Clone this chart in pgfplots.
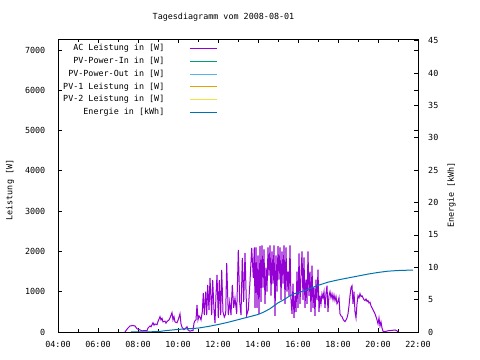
\documentclass[border=0pt]{standalone}
\usepackage{fontspec}
\setmainfont{DejaVu Sans Mono}
\usepackage{pgfplots}
\pgfplotsset{compat=1.18}
\newcommand\myfont{\fontsize{8.4bp}{10bp}\selectfont}
\definecolor{cAC}{HTML}{9400D3}
\definecolor{cIn}{HTML}{009E73}
\definecolor{cOut}{HTML}{56B4E9}
\definecolor{cPVa}{HTML}{E69F00}
\definecolor{cPVb}{HTML}{F0E442}
\definecolor{cE}{HTML}{0072B2}
\begin{document}
\begin{tikzpicture}[font=\myfont]
\useasboundingbox (0,0) rectangle (480bp,360bp);
\begin{axis}[
  at={(58bp,28bp)}, anchor=south west,
  scale only axis, width=360bp, height=292.5bp,
  xmin=4, xmax=22, ymin=0, ymax=7260,
  xtick={4,6,...,22}, minor xtick={5,7,...,21},
  xticklabels={04:00,06:00,08:00,10:00,12:00,14:00,16:00,18:00,20:00,22:00},
  ytick={0,1000,...,7000},
  scaled y ticks=false,
  /pgf/number format/1000 sep={},
  /pgf/number format/assume math mode=true,
  tick align=inside, tick pos=both,
  xticklabel pos=lower, yticklabel pos=left,
  major tick length=4bp, minor tick length=2.5bp,
  tick style={black, line width=0.8bp},
  axis line style={line width=0.9bp},
  xticklabel style={font=\myfont, anchor=north, inner sep=0pt, yshift=-9.5bp},
  yticklabel style={font=\myfont, anchor=east, inner sep=0pt, xshift=-12.5bp},
  legend plot pos=right, legend cell align=right,
  legend image code/.code={\draw[#1,line width=1bp] (0bp,0bp) -- (27bp,0bp);},
  legend style={draw=none, fill=none, at={(0,1)}, anchor=north west,
    xshift=5bp, yshift=-5bp, inner sep=0pt, row sep=5.3bp, column sep=25bp,
    nodes={inner sep=0pt, text height=6bp, text depth=1.5bp, font=\myfont}},
]
\addplot[cAC, line width=1bp] coordinates {
(7.35,0) (7.5,100) (7.6,150) (7.75,160) (7.85,150) (7.95,80) (8.05,60) (8.2,30)
(8.35,35) (8.45,30) (8.5,100) (8.6,150) (8.65,130) (8.75,230) (8.8,170) (8.85,200)
(8.95,180) (9.0,260) (9.1,380) (9.15,300) (9.2,340) (9.25,250) (9.35,270) (9.4,220)
(9.45,260) (9.55,300) (9.6,350) (9.7,480) (9.75,300) (9.8,380) (9.85,250) (9.95,230)
(10.0,290) (10.1,450) (10.15,200) (10.2,120) (10.3,60) (10.4,100) (10.45,130) (10.5,50)
(10.6,20) (10.7,40) (10.75,30) (10.8,220) (10.85,280) (10.9,300) (10.95,670) (11.0,300)
(11.05,400) (11.1,370) (11.15,300) (11.215,500) (11.265,970) (11.315,420) (11.385,1000)
(11.435,420) (11.485,1170) (11.55,550) (11.6,1340) (11.685,420) (11.735,1290) (11.8,550)
(11.85,220) (11.9,920) (11.95,1420) (12.015,350) (12.065,1290) (12.135,420) (12.185,1540)
(12.25,500) (12.315,370) (12.385,450) (12.435,1710) (12.515,420) (12.585,750) (12.65,420)
(12.715,1170) (12.785,600) (12.85,840) (12.935,450) (13.015,2040) (13.085,750) (13.15,420)
(13.215,1840) (13.285,750) (13.35,1960) (13.435,420) (13.515,550) (13.6,1250) (13.685,2090)
(13.765,1340) (13.815,2100)
(13.85,600) (13.9,2100) (13.95,600) (14.0,1900) (14.05,450) (14.1,2130) (14.15,750)
(14.2,2150) (14.25,1100) (14.3,2050) (14.35,700) (14.4,1600) (14.45,1000) (14.5,2100)
(14.55,1400) (14.6,2150) (14.65,900) (14.7,2000) (14.75,1200) (14.8,2150) (14.85,400)
(14.9,1900) (14.95,1000) (15.0,2130) (15.05,1300) (15.1,2100) (15.15,800) (15.2,2000)
(15.25,1200) (15.3,2150) (15.35,700) (15.4,2100) (15.45,1000) (15.5,1500) (15.55,900)
(15.6,2150) (15.65,800) (15.7,450) (15.75,1200) (15.8,350) (15.85,900) (15.9,500)
(15.95,1500) (16.0,600) (16.05,1950) (16.1,700) (16.15,1400) (16.2,2000) (16.25,800)
(16.3,1850) (16.35,600) (16.4,1300) (16.45,700) (16.5,2000) (16.55,900) (16.6,1500)
(16.65,500) (16.7,1650) (16.75,600) (16.8,1100) (16.85,400) (16.9,1300) (16.95,800)
(17.0,1550) (17.05,500) (17.1,900) (17.15,700) (17.2,950) (17.25,850) (17.3,1000)
(17.35,600) (17.4,950) (17.45,1150) (17.5,500) (17.55,900) (17.6,1000) (17.65,850)
(17.7,950) (17.75,800) (17.8,920) (17.85,780) (17.9,880) (17.95,700) (18.0,750)
(18.05,850) (18.1,450) (18.15,400) (18.2,380) (18.25,320) (18.3,280) (18.35,260)
(18.4,300) (18.45,350) (18.5,450) (18.55,650) (18.6,900) (18.65,1100) (18.7,1150)
(18.75,700) (18.8,1000) (18.85,500) (18.9,350) (18.95,700) (19.0,900) (19.05,850)
(19.1,950) (19.15,880) (19.2,900) (19.25,850) (19.3,800) (19.35,780) (19.4,820)
(19.45,760) (19.5,780) (19.55,720) (19.6,740) (19.65,650) (19.7,600) (19.75,550)
(19.8,500) (19.85,450) (19.9,380) (19.95,300) (20.0,200) (20.05,350) (20.1,150)
(20.15,250) (20.2,100) (20.25,20) (20.35,10) (20.5,30) (20.7,40) (20.85,50) (20.95,30)
(21.0,0)
};
\addlegendentry{AC Leistung in [W]}
\addlegendimage{cIn}
\addlegendentry{PV-Power-In in [W]}
\addlegendimage{cOut}
\addlegendentry{PV-Power-Out in [W]}
\addlegendimage{cPVa}
\addlegendentry{PV-1 Leistung in [W]}
\addlegendimage{cPVb}
\addlegendentry{PV-2 Leistung in [W]}
\addlegendimage{cE}
\addlegendentry{Energie in [kWh]}
\end{axis}
\begin{axis}[
  at={(58bp,28bp)}, anchor=south west,
  scale only axis, width=360bp, height=292.5bp,
  xmin=4, xmax=22, ymin=0, ymax=45.2,
  axis x line=none, axis y line*=right,
  ytick={0,5,...,45},
  /pgf/number format/assume math mode=true,
  tick align=inside,
  major tick length=4bp,
  tick style={black, line width=0.8bp},
  axis line style={line width=0.9bp},
  yticklabel style={font=\myfont, anchor=west, inner sep=0pt, xshift=10bp},
]
\addplot[cE, line width=1bp] coordinates {
(7.65,0) (9.0,0.05) (9.35,0.2) (10.0,0.4) (10.5,0.5) (11.0,0.6) (11.5,0.85)
(12.0,1.15) (12.5,1.5) (13.0,1.9) (13.5,2.3) (14.0,2.7) (14.3,3.1) (14.6,3.6)
(15.0,4.5) (15.3,5.0) (15.6,5.6) (15.8,5.9) (16.1,6.15) (16.5,6.6) (17.0,7.2)
(17.5,7.7) (18.0,8.05) (18.5,8.35) (19.0,8.65) (19.5,8.95) (20.0,9.2) (20.5,9.4)
(21.0,9.5) (21.5,9.55) (21.75,9.55)
};
\end{axis}
\node at (223.5bp,342.5bp) {Tagesdiagramm vom 2008-08-01};
\node[rotate=90] at (10bp,170bp) {Leistung [W]};
\node[rotate=90] at (451.5bp,165bp) {Energie [kWh]};
\end{tikzpicture}
\end{document}
